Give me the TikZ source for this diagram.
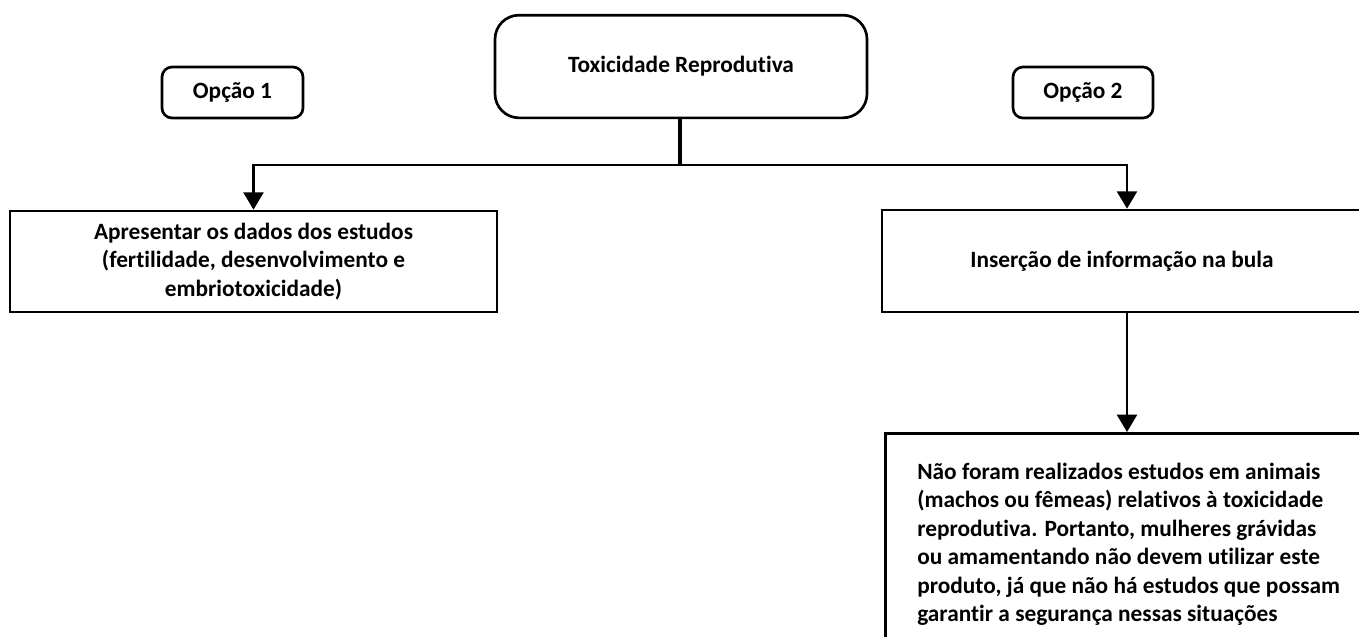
\documentclass[tikz,border=0pt]{standalone}
\usepackage{fontspec}
\setmainfont{Carlito}[Ligatures=NoCommon]
\usetikzlibrary{arrows.meta,calc}

\begin{document}
\begin{tikzpicture}[x=0.75pt,y=0.75pt,yscale=-1,xscale=1,
  every node/.style={font=\bfseries\fontsize{17.5}{21.4}\selectfont,
    execute at begin node={\setlength{\baselineskip}{21.4pt}}},
  rbox/.style={draw,line width=2pt,rounded corners=7.5pt,inner sep=0pt},
  sbox/.style={draw,line width=2pt,inner sep=0pt,align=center},
  link/.style={line width=1.8pt,-{Triangle[width=15pt,length=13pt]}}]
\useasboundingbox (0,0) rectangle (1359,636);

% Rounded boxes
\node [rbox,rounded corners=18pt,minimum width=279pt,minimum height=77pt] (tox) at (681,66.5) {Toxicidade Reprodutiva};
\node [rbox,minimum width=105.75pt,minimum height=38.25pt] (op1) at (232.5,92.5) {Opção 1};
\node [rbox,minimum width=105pt,minimum height=38.25pt] (op2) at (1083,92.5) {Opção 2};

% Square boxes
\node [sbox,minimum width=365.25pt,minimum height=75.75pt] (dados) at (253.5,261.5) {Apresentar os dados dos estudos\\(fertilidade, desenvolvimento e\\embriotoxicidade)};
\node [sbox,minimum width=360pt,minimum height=76.5pt] (ins) at (1122,261) {Inserção de informação na bula};
\node [sbox,anchor=north west,align=left,minimum width=365pt,inner xsep=15pt,inner ysep=22pt] (aviso) at (884,432) {Não foram realizados estudos em animais\\(machos ou fêmeas) relativos à toxicidade\\reprodutiva. Portanto, mulheres grávidas\\ou amamentando não devem utilizar este\\produto, já que não há estudos que possam\\garantir a segurança nessas situações\\[8pt]};

% Connectors
\coordinate (split) at (680,165);
\coordinate (jR) at (1127,165);
\draw [line width=3pt] (tox.south -| split) -- (split);
\draw [link] (split) -| (dados.north);
\draw [link] (split) -- (jR) -- (jR |- ins.north);
\draw [link] (ins.south -| jR) -- (aviso.north -| jR);

\end{tikzpicture}
\end{document}
